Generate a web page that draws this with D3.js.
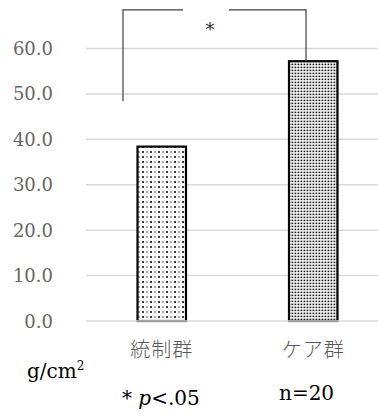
<!DOCTYPE html>
<html>
<head>
<meta charset="utf-8">
<script src="https://cdn.jsdelivr.net/npm/d3@7"></script>
<style>
  html, body { margin: 0; padding: 0; background: #fff; }
  svg { display: block; }
</style>
</head>
<body>
<svg id="chart" width="378" height="417"></svg>
<script>
// Group names and mean values (g/cm²)
const categories = ["統制群", "ケア群"];
const values = [38.4, 57.2];
const tickValues = [0, 10, 20, 30, 40, 50, 60];
const tickLabels = ["0.0", "10.0", "20.0", "30.0", "40.0", "50.0", "60.0"];
const patterns = ["dotsSparse", "dotsDense"];

const svg = d3.select("#chart");
const W = 378, H = 417;

const x = d3.scaleBand().domain(categories).range([86, 389]).padding(0);
const y = d3.scaleLinear().domain([0, 60]).range([321, 48.5]);
const barW = x.bandwidth() * 0.32;

// Fill patterns
const defs = svg.append("defs");
const p1 = defs.append("pattern").attr("id", "dotsSparse")
  .attr("patternUnits", "userSpaceOnUse").attr("width", 8).attr("height", 10)
  .attr("x", 137).attr("y", 0);
p1.append("rect").attr("width", 8).attr("height", 10).attr("fill", "#fff");
[[4, 2, 1.8], [4, 7, 1.8], [0, 2, 1.2], [0, 7, 1.2]].forEach(([cx, cy, s]) => {
  p1.append("rect").attr("x", cx - s / 2 + 2).attr("y", cy - s / 2).attr("width", s).attr("height", s).attr("fill", "#111");
});

const p2 = defs.append("pattern").attr("id", "dotsDense")
  .attr("patternUnits", "userSpaceOnUse").attr("width", 3).attr("height", 3)
  .attr("x", 288).attr("y", 0);
p2.append("rect").attr("width", 3).attr("height", 3).attr("fill", "#fff");
p2.append("rect").attr("x", 0.5).attr("y", 0.6).attr("width", 1.8).attr("height", 1.6).attr("fill", "#222");

// Gridlines
svg.append("g").selectAll("line").data(tickValues.filter(d => d > 0)).join("line")
  .attr("x1", 86).attr("x2", W)
  .attr("y1", d => y(d)).attr("y2", d => y(d))
  .attr("stroke", "#d9d9d9").attr("stroke-width", 1.5);

// Y tick labels
svg.append("g").selectAll("text").data(tickValues).join("text")
  .attr("x", 53).attr("y", d => y(d) + 6.5)
  .attr("text-anchor", "end")
  .attr("font-family", "DejaVu Serif, serif")
  .attr("font-size", 18)
  .attr("fill", "#666")
  .text((d, i) => tickLabels[i]);

// Bars
svg.append("g").selectAll("rect").data(values).join("rect")
  .attr("x", (d, i) => x(categories[i]) + x.bandwidth() / 2 - barW / 2)
  .attr("y", d => y(d))
  .attr("width", barW)
  .attr("height", d => y(0) - y(d))
  .attr("fill", (d, i) => `url(#${patterns[i]})`)
  .attr("stroke", "#000").attr("stroke-width", 2.2);

// Baseline
svg.append("line")
  .attr("x1", 86).attr("x2", W).attr("y1", y(0)).attr("y2", y(0))
  .attr("stroke", "#d9d9d9").attr("stroke-width", 1.5);

// Category labels
svg.append("g").selectAll("text").data(categories).join("text")
  .attr("x", d => x(d) + x.bandwidth() / 2)
  .attr("y", 357)
  .attr("text-anchor", "middle")
  .attr("font-family", "Noto Sans CJK JP, sans-serif")
  .attr("font-weight", 300)
  .attr("font-size", 20)
  .attr("letter-spacing", 1)
  .attr("fill", "#595959")
  .text(d => d);

// Significance bracket
const bracketTop = 68.5;
const leftX = 123, rightX = 306;
const br = svg.append("g").attr("stroke", "#404040").attr("stroke-width", 1.2).attr("fill", "none");
br.append("path").attr("d", `M${leftX},${y(48.4)} V${y(bracketTop)} H183`);
br.append("path").attr("d", `M229,${y(bracketTop)} H${rightX} V${y(values[1])}`);
svg.append("text").attr("x", 210).attr("y", 36)
  .attr("text-anchor", "middle")
  .attr("font-family", "DejaVu Serif, serif").attr("font-size", 18)
  .attr("fill", "#333").text("*");

// Unit and notes
svg.append("text").attr("x", 27).attr("y", 378)
  .attr("font-family", "DejaVu Serif, serif").attr("font-size", 20).attr("fill", "#000")
  .call(t => {
    t.append("tspan").text("g/cm");
    t.append("tspan").attr("font-size", 12).attr("dy", -8).text("2");
  });

svg.append("text").attr("x", 122).attr("y", 405)
  .attr("font-family", "DejaVu Serif, serif").attr("font-size", 20).attr("fill", "#000")
  .call(t => {
    t.append("tspan").text("* ");
    t.append("tspan").attr("font-style", "italic").text("p");
    t.append("tspan").text("<.05");
  });

svg.append("text").attr("x", 279).attr("y", 400)
  .attr("font-family", "DejaVu Serif, serif").attr("font-size", 20).attr("fill", "#000")
  .text("n=20");
</script>
</body>
</html>
